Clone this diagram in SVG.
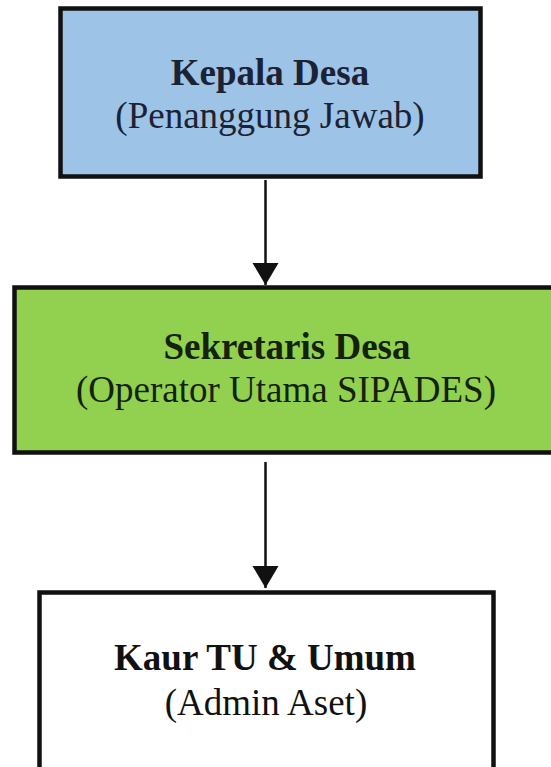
<svg xmlns="http://www.w3.org/2000/svg" width="551" height="767" viewBox="0 0 551 767">
  <defs>
    <style>
      .box { stroke: #111; stroke-width: 4.5; }
      .t { font-family: "Liberation Serif", "Times New Roman", serif; font-size: 37px; text-anchor: middle; }
      .b { font-weight: bold; }
      .conn { stroke: #111; stroke-width: 2.5; fill: none; }
    </style>
    <marker id="arrow" markerUnits="userSpaceOnUse" markerWidth="24" markerHeight="28" refX="22" refY="13" orient="auto">
      <path d="M0,0 L22,13 L0,26 Z" fill="#111"/>
    </marker>
  </defs>
  <rect width="551" height="767" fill="#ffffff"/>
  <g id="connectors">
    <line class="conn" x1="265.5" y1="180" x2="265.5" y2="285" marker-end="url(#arrow)"/>
    <line class="conn" x1="265.5" y1="462" x2="265.5" y2="588" marker-end="url(#arrow)"/>
  </g>
  <g id="kepala-desa">
    <rect class="box" x="60.5" y="8.5" width="420" height="168" fill="#9DC3E6"/>
    <text class="t b" x="270" y="85" fill="#1b2233">Kepala Desa</text>
    <text class="t" x="270" y="128" fill="#1b2233">(Penanggung Jawab)</text>
  </g>
  <g id="sekretaris-desa">
    <rect class="box" x="14.5" y="287.5" width="546" height="165" fill="#92D050"/>
    <text class="t b" x="287" y="359" fill="#14220c">Sekretaris Desa</text>
    <text class="t" x="286" y="402" fill="#14220c">(Operator Utama SIPADES)</text>
  </g>
  <g id="kaur-tu-umum">
    <rect class="box" x="39.5" y="592.5" width="454" height="190" fill="#ffffff"/>
    <text class="t b" x="265" y="670" fill="#111">Kaur TU &amp; Umum</text>
    <text class="t" x="266" y="715" fill="#111">(Admin Aset)</text>
  </g>
</svg>
